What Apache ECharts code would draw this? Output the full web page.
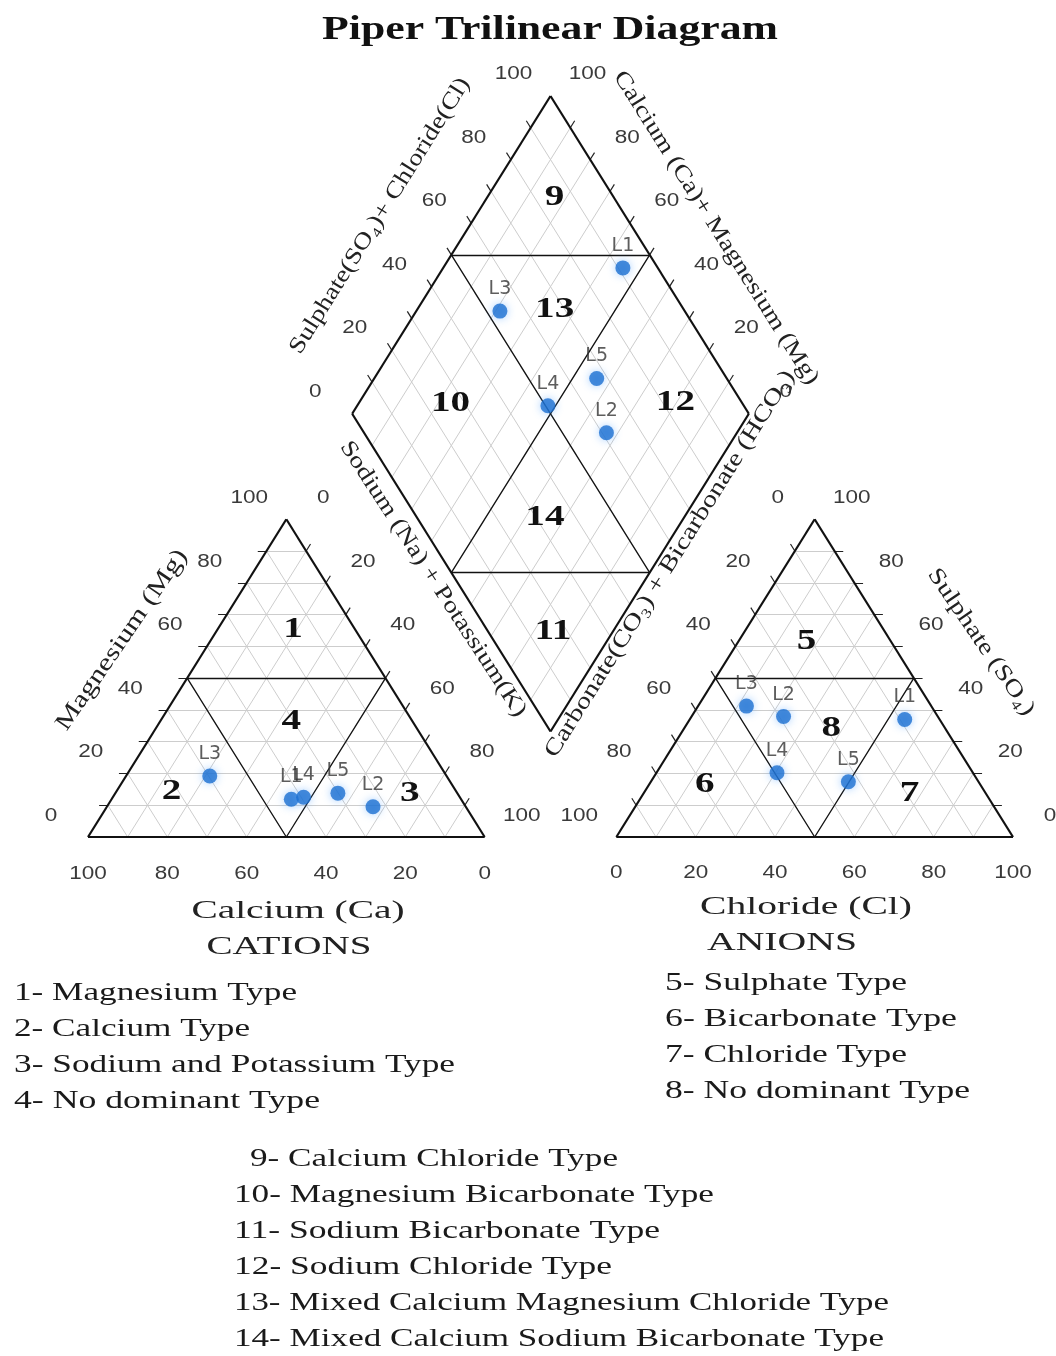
<!DOCTYPE html>
<html>
<head>
<meta charset="utf-8">
<script src="https://cdn.jsdelivr.net/npm/echarts/dist/echarts.min.js"></script>
<style>
html,body{margin:0;padding:0;background:#ffffff;}
#chart{width:1056px;height:1356px;}
</style>
</head>
<body>
<div id="chart"></div>
<script>
// ---------------- DATA (percent of meq/L) ----------------
const samples        = ['L1', 'L2', 'L3', 'L4', 'L5'];
const calcium        = [42.8, 23.4, 59.7, 39.4, 30.1];
const magnesium      = [11.9,  9.5, 19.2, 12.5, 13.8];
const sodiumPotassium= [45.3, 67.1, 21.1, 48.1, 56.1];
const chloride       = [54.2, 23.2, 12.2, 30.4, 49.8];
const sulphate       = [37.0, 37.9, 41.2, 20.2, 17.4];
const bicarbonate    = [ 8.8, 38.9, 46.6, 49.4, 32.8];
const tickValues     = [0, 20, 40, 60, 80, 100];
const gridSteps      = [10, 20, 30, 40, 50, 60, 70, 80, 90];

// ---------------- GEOMETRY ----------------
const GAP = 33.2;
const H = Math.sqrt(3) / 2;
function cat(ca, mg, na) { return [na + mg / 2, mg * H]; }
function ani(cl, so4, hco3) { return [100 + GAP + cl + so4 / 2, so4 * H]; }
function dia(camg, so4cl) { return [100 + GAP / 2 + (so4cl - camg) / 2, GAP * H + (camg + so4cl) * H]; }

const SERIF = '"Liberation Serif", "DejaVu Serif", serif';
const SANS = '"Liberation Sans", Arial, sans-serif';

// gray grid
const graySegs = [];
gridSteps.forEach(t => {
  graySegs.push([cat(100 - t, t, 0), cat(0, t, 100 - t)]);
  graySegs.push([cat(100 - t, 0, t), cat(0, 100 - t, t)]);
  graySegs.push([cat(t, 0, 100 - t), cat(t, 100 - t, 0)]);
  graySegs.push([ani(0, t, 100 - t), ani(100 - t, t, 0)]);
  graySegs.push([ani(t, 0, 100 - t), ani(t, 100 - t, 0)]);
  graySegs.push([ani(100 - t, 0, t), ani(0, 100 - t, t)]);
  graySegs.push([dia(t, 0), dia(t, 100)]);
  graySegs.push([dia(0, t), dia(100, t)]);
});

// outlines
const outlineSegs = [
  [cat(100,0,0), cat(0,0,100)], [cat(0,0,100), cat(0,100,0)], [cat(0,100,0), cat(100,0,0)],
  [ani(0,0,100), ani(100,0,0)], [ani(100,0,0), ani(0,100,0)], [ani(0,100,0), ani(0,0,100)],
  [dia(0,0), dia(100,0)], [dia(100,0), dia(100,100)], [dia(100,100), dia(0,100)], [dia(0,100), dia(0,0)]
];
// zone boundary lines
const zoneSegs = [
  [cat(50,50,0), cat(0,50,50)], [cat(50,50,0), cat(50,0,50)], [cat(0,50,50), cat(50,0,50)],
  [ani(0,50,50), ani(50,50,0)], [ani(0,50,50), ani(50,0,50)], [ani(50,50,0), ani(50,0,50)],
  [dia(50,0), dia(50,100)], [dia(0,50), dia(100,50)], [dia(100,50), dia(50,100)], [dia(50,0), dia(0,50)]
];
// ticks: outward extension of grid lines
const tickSegs = [];
function ext(p, q, len) {
  const dx = p[0] - q[0], dy = p[1] - q[1], d = Math.hypot(dx, dy);
  return [p, [p[0] + dx / d * len, p[1] + dy / d * len]];
}
const TL = 2.2;
gridSteps.forEach(t => {
  tickSegs.push(ext(cat(t,0,100-t), cat(t,100-t,0), TL));      // Ca on base
  tickSegs.push(ext(cat(100-t,t,0), cat(0,t,100-t), TL));      // Mg on left edge
  tickSegs.push(ext(cat(0,100-t,t), cat(100-t,0,t), TL));      // Na on right edge
  tickSegs.push(ext(ani(t,0,100-t), ani(t,100-t,0), TL));      // Cl on base
  tickSegs.push(ext(ani(0,100-t,t), ani(100-t,0,t), TL));      // HCO3 on left edge
  tickSegs.push(ext(ani(100-t,t,0), ani(0,t,100-t), TL));      // SO4 on right edge
  tickSegs.push(ext(dia(100,t), dia(0,t), TL));                // SO4+Cl on top-left edge
  tickSegs.push(ext(dia(t,100), dia(t,0), TL));                // Ca+Mg on top-right edge
});

// points
const catPts = samples.map((s, i) => ({ name: s, value: cat(calcium[i], magnesium[i], sodiumPotassium[i]) }));
const aniPts = samples.map((s, i) => ({ name: s, value: ani(chloride[i], sulphate[i], bicarbonate[i]) }));
const diaPts = samples.map((s, i) => ({ name: s, value: dia(calcium[i] + magnesium[i], sulphate[i] + chloride[i]) }));

const segData = segs => segs.map(s => ({ coords: s }));

const chart = echarts.init(document.getElementById('chart'), null, { renderer: 'canvas' });
const pointStyle = {
  type: 'scatter', symbol: 'circle', symbolSize: 15, z: 10,
  itemStyle: { color: '#1b6fd1', shadowBlur: 8, shadowColor: 'rgba(80,160,255,0.6)' },
  label: { show: true, position: 'top', distance: 5, formatter: '{b}', fontFamily: '"DejaVu Sans", sans-serif', fontSize: 19, color: '#353535' }
};
chart.setOption({
  animation: false,
  backgroundColor: '#ffffff',
  grid: { left: 88, right: 43, top: 96, bottom: 519 },
  xAxis: { type: 'value', min: 0, max: 200 + GAP, show: false },
  yAxis: { type: 'value', min: 0, max: (200 + GAP) * H, show: false },
  series: [
    { type: 'lines', coordinateSystem: 'cartesian2d', silent: true, z: 1, data: segData(graySegs), lineStyle: { color: '#cdcdcd', width: 1, opacity: 1 } },
    { type: 'lines', coordinateSystem: 'cartesian2d', silent: true, z: 3, data: segData(zoneSegs), lineStyle: { color: '#111', width: 1.3, opacity: 1 } },
    { type: 'lines', coordinateSystem: 'cartesian2d', silent: true, z: 4, data: segData(tickSegs), lineStyle: { color: '#222', width: 1.2, opacity: 1 } },
    { type: 'lines', coordinateSystem: 'cartesian2d', silent: true, z: 4, data: segData(outlineSegs), lineStyle: { color: '#111', width: 2.2, opacity: 1 } },
    Object.assign({}, pointStyle, { data: catPts }),
    Object.assign({}, pointStyle, { data: aniPts }),
    Object.assign({}, pointStyle, { data: diaPts })
  ]
});

// ---------------- TEXT ----------------
const mctx = document.createElement('canvas').getContext('2d');
function natW(text, size, fam, weight) { mctx.font = weight + ' ' + size + 'px ' + fam; return mctx.measureText(text).width; }
function txt(text, x, y, o) {
  const weight = o.bold ? 'bold' : 'normal';
  const fam = o.family || SERIF;
  const sx = o.width ? o.width / natW(text, o.size, fam, weight) : (o.sx || 1);
  return {
    type: 'text', x: x, y: y, rotation: (o.rot || 0) * Math.PI / 180, scaleX: sx, silent: true, z: 50,
    style: { text: text, fontSize: o.size, fontFamily: fam, fontWeight: weight, fill: o.color || '#111',
             align: o.align || 'center', verticalAlign: 'middle' }
  };
}
const toPx = p => chart.convertToPixel({ gridIndex: 0 }, p);
const g = [];

// tick labels
function tickLabels(fn, dx, dy) {
  tickValues.forEach(t => {
    const p = toPx(fn(t));
    g.push(txt(String(t), p[0] + dx, p[1] + dy, { size: 18, family: SANS, sx: 1.25, color: '#3a3a3a' }));
  });
}
tickLabels(t => cat(100 - t, t, 0), -37, -21);
tickLabels(t => cat(0, 100 - t, t), 37, -21);
tickLabels(t => cat(t, 0, 100 - t), 0, 37);
tickLabels(t => ani(0, 100 - t, t), -37, -21);
tickLabels(t => ani(100 - t, t, 0), 37, -21);
tickLabels(t => ani(t, 0, 100 - t), 0, 36);
tickLabels(t => dia(100, t), -37, -22);
tickLabels(t => dia(t, 100), 37, -22);

// zone numbers (positions expressed in ternary terms)
const zoneLabels = [
  ['1', cat(100 - 65.2 - 19.1, 65.2, 19.1)], ['4', cat(100 - 36.3 - 33.1, 36.3, 33.1)],
  ['2', cat(100 - 14.3 - 13.9, 14.3, 13.9)], ['3', cat(100 - 13.8 - 74.2, 13.8, 74.2)],
  ['5', ani(17.2, 61.5, 100 - 17.2 - 61.5)], ['8', ani(37.1, 34.2, 100 - 37.1 - 34.2)],
  ['6', ani(14.1, 16.4, 100 - 14.1 - 16.4)], ['7', ani(67.0, 13.8, 100 - 67.0 - 13.8)],
  ['9', dia(83.1, 85.1)], ['13', dia(65.4, 67.5)], ['10', dia(76.8, 26.4)],
  ['12', dia(20.2, 83.2)], ['14', dia(35.0, 32.2)], ['11', dia(15.1, 16.3)]
];
zoneLabels.forEach(z => { const p = toPx(z[1]); g.push(txt(z[0], p[0], p[1], { size: 29, bold: true, sx: 1.35, color: '#111' })); });

// titles
g.push(txt('Piper Trilinear Diagram', 550, 30, { size: 33, bold: true, width: 456 }));
g.push(txt('Calcium (Ca)', 298, 911, { size: 26, width: 213, color: '#222' }));
g.push(txt('CATIONS', 289, 947, { size: 26, width: 165, color: '#222' }));
g.push(txt('Chloride (Cl)', 806, 907, { size: 26, width: 212, color: '#222' }));
g.push(txt('ANIONS', 782, 943, { size: 26, width: 150, color: '#222' }));
g.push(txt('Magnesium (Mg)', 122, 640, { size: 24, width: 214, rot: 55.5, color: '#222' }));
g.push(txt('Sodium (Na) + Potassium(K)', 433, 579, { size: 23, width: 324, rot: -57, color: '#222' }));
g.push(txt('Sulphate(SO₄)+ Chloride(Cl)', 380, 216, { size: 23, width: 321, rot: 58, color: '#222' }));
g.push(txt('Calcium (Ca)+ Magnesium (Mg)', 716, 228, { size: 23, width: 366, rot: -57.8, color: '#222' }));
g.push(txt('Carbonate(CO₃) + Bicarbonate (HCO₃)', 670, 564, { size: 23, width: 452, rot: 58, color: '#222' }));
g.push(txt('Sulphate (SO₄)', 981, 642, { size: 23, width: 173, rot: -55.6, color: '#222' }));

// legend of types
const legendLines = [
  ['1- Magnesium Type', 14, 993, 283], ['2- Calcium Type', 14, 1029, 236],
  ['3- Sodium and Potassium Type', 14, 1065, 441], ['4- No dominant Type', 14, 1101, 306],
  ['5- Sulphate Type', 665, 983, 242], ['6- Bicarbonate Type', 665, 1019, 292],
  ['7- Chloride Type', 665, 1055, 242], ['8- No dominant Type', 665, 1091, 305],
  ['9- Calcium Chloride Type', 250, 1159, 368], ['10- Magnesium Bicarbonate Type', 234, 1195, 480],
  ['11- Sodium Bicarbonate Type', 234, 1231, 426], ['12- Sodium Chloride Type', 234, 1267, 378],
  ['13- Mixed Calcium Magnesium Chloride Type', 234, 1303, 655], ['14- Mixed Calcium Sodium Bicarbonate Type', 234, 1339, 650]
];
legendLines.forEach(l => g.push(txt(l[0], l[1], l[2], { size: 26, width: l[3], align: 'left', color: '#1a1a1a' })));

chart.setOption({ graphic: { elements: g } });
</script>
</body>
</html>
